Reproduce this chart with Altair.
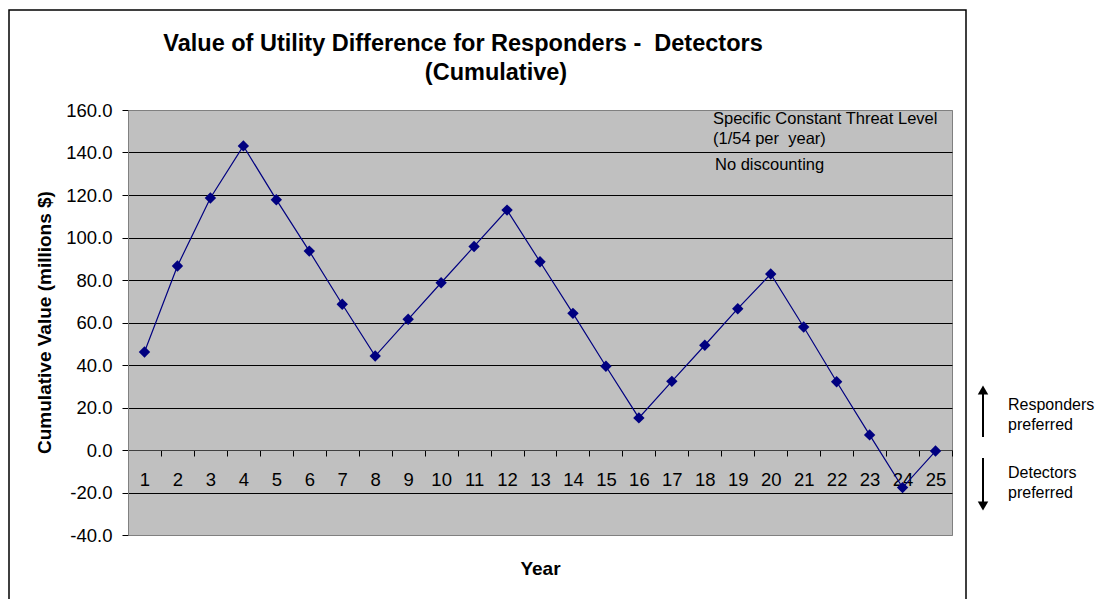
import altair as alt
import pandas as pd

years = list(range(1, 26))
values = [46.1, 86.6, 118.6, 143.1, 117.8, 93.6, 68.6, 44.2, 61.5, 78.7,
          95.8, 112.9, 88.6, 64.3, 39.4, 15.1, 32.3, 49.3, 66.5, 82.8,
          57.9, 32.1, 7.1, -17.7, -0.5]
y_ticks = [-40, -20, 0, 20, 40, 60, 80, 100, 120, 140, 160]

title_line1 = "Value of Utility Difference for Responders - \u00a0Detectors"
title_line2 = "(Cumulative)"
note_lines = ["Specific Constant Threat Level", "(1/54 per \u00a0year)", "No discounting"]
side_lines = ["Responders", "preferred", "Detectors", "preferred"]

df = pd.DataFrame({"Year": years, "Value": values})
one = pd.DataFrame({"k": [0]})

FONT = "Liberation Sans"
NAVY = "#000080"

x_enc = alt.X(
    "Year:O",
    scale=alt.Scale(type="band", paddingInner=0, paddingOuter=0),
    axis=alt.Axis(
        title="Year", titleFontSize=19, titleFontWeight="bold", titleColor="black",
        titleY=118, titleBaseline="middle",
        offset=-85, tickBand="extent", labelAngle=0,
        labelFontSize=18.5, labelColor="black", labelPadding=23, labelBaseline="middle",
        tickColor="black", tickSize=6, domainColor="#404040", grid=False,
    ),
)
y_enc = alt.Y(
    "Value:Q",
    scale=alt.Scale(domain=[-40, 160], nice=False, zero=False),
    axis=alt.Axis(
        title="Cumulative Value (millions $)", titleFontSize=19, titleFontWeight="bold",
        titleColor="black", titleX=-84, titleY=212, titleAngle=-90,
        titleAlign="center", titleBaseline="middle",
        values=y_ticks,
        labelExpr="replace(format(datum.value, '.1f'), '\u2212', '-')",
        labelFontSize=18.5, labelColor="black", labelPadding=10,
        tickColor="black", tickSize=6, domainColor="#808080",
        grid=True,
        gridColor={"condition": {"test": "datum.value == 160 || datum.value == -40",
                                 "value": "#808080"}, "value": "black"},
        gridWidth=1,
    ),
)

base = alt.Chart(df).encode(x=x_enc, y=y_enc)
line = base.mark_line(color=NAVY, strokeWidth=1.2)
pts = base.mark_point(shape="diamond", filled=True, color=NAVY, size=130, opacity=1)

border = alt.Chart(one).mark_rect(fillOpacity=0, stroke="black", strokeWidth=1.5).encode(
    x=alt.value(-119), x2=alt.value(838), y=alt.value(-100), y2=alt.value(620)
)

t1 = alt.Chart(one).mark_text(text=title_line1, fontSize=23.5, fontWeight="bold",
                              align="center", baseline="middle", color="black").encode(
    x=alt.value(335), y=alt.value(-66))
t2 = alt.Chart(one).mark_text(text=title_line2, fontSize=23.5, fontWeight="bold",
                              align="center", baseline="middle", color="black").encode(
    x=alt.value(368), y=alt.value(-37))

n1 = alt.Chart(one).mark_text(text=note_lines[0], fontSize=16.5, align="left",
                              baseline="middle", color="black").encode(
    x=alt.value(585), y=alt.value(9))
n2 = alt.Chart(one).mark_text(text=note_lines[1], fontSize=16.5, align="left",
                              baseline="middle", color="black").encode(
    x=alt.value(585), y=alt.value(29))
n3 = alt.Chart(one).mark_text(text=note_lines[2], fontSize=16.5, align="left",
                              baseline="middle", color="black").encode(
    x=alt.value(587), y=alt.value(55))

side = []
for txt, yy in zip(side_lines, [295, 315, 363, 383]):
    side.append(alt.Chart(one).mark_text(text=txt, fontSize=16, align="left",
                                         baseline="middle", color="black").encode(
        x=alt.value(880), y=alt.value(yy)))

up_rule = alt.Chart(one).mark_rule(color="black", strokeWidth=2).encode(
    x=alt.value(855), y=alt.value(282), y2=alt.value(327))
up_head = alt.Chart(one).mark_point(shape="triangle-up", filled=True, color="black",
                                    size=110, opacity=1).encode(
    x=alt.value(855), y=alt.value(280))
dn_rule = alt.Chart(one).mark_rule(color="black", strokeWidth=2).encode(
    x=alt.value(855), y=alt.value(348), y2=alt.value(394))
dn_head = alt.Chart(one).mark_point(shape="triangle-down", filled=True, color="black",
                                    size=110, opacity=1).encode(
    x=alt.value(855), y=alt.value(396))

chart = alt.layer(border, line, pts, t1, t2, n1, n2, n3, *side,
                  up_rule, up_head, dn_rule, dn_head).properties(
    width=824, height=425,
    autosize=alt.AutoSizeParams(type="none"),
    padding={"left": 120, "top": 102, "right": 144, "bottom": 64},
    background="white",
).configure(font=FONT).configure_view(
    fill="#C0C0C0", stroke="#808080", strokeWidth=1
)

chart.save("out.html", embed_options={"renderer": "svg", "actions": False})
